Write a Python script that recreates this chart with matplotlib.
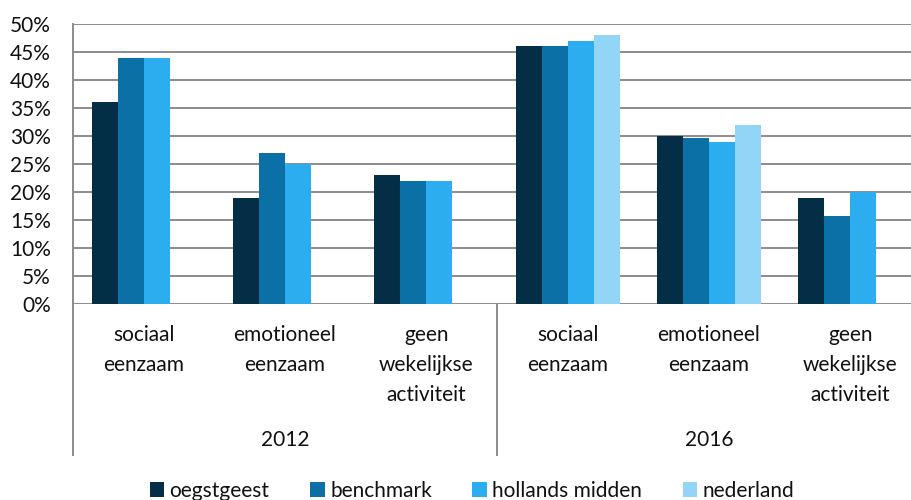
import matplotlib.pyplot as plt
from matplotlib.patches import Patch

# data
years = ['2012', '2016']
categories = ['sociaal\neenzaam', 'emotioneel\neenzaam', 'geen\nwekelijkse\nactiviteit']
series = ['oegstgeest', 'benchmark', 'hollands midden', 'nederland']
colors = ['#032E45', '#0B70A6', '#2BADEF', '#93D5F7']
oegstgeest = [36, 19, 23, 46, 30, 19]
benchmark = [44, 27, 22, 46, 29.6, 15.7]
hollands_midden = [44, 25, 22, 47, 29, 20]
nederland = [None, None, None, 48, 32, None]
values = [oegstgeest, benchmark, hollands_midden, nederland]

W, H = 911, 500
plt.rcParams['font.family'] = ['Lato', 'DejaVu Sans']
fig = plt.figure(figsize=(W / 100, H / 100), dpi=100)

# plot area in pixels: x 73..921 (cropped at right), y 24..304
x0, x1, ytop, ybot = 73, 921, 24, 304
ax = fig.add_axes([x0 / W, (H - ybot) / H, (x1 - x0) / W, (ybot - ytop) / H])

n_cat = len(categories) * len(years)
bw = 0.184
for i, (name, vals) in enumerate(zip(series, values)):
    xs = [c + 0.5 + (i - 1.5) * bw for c in range(n_cat) if vals[c] is not None]
    hs = [v for v in vals if v is not None]
    ax.bar(xs, hs, width=bw, color=colors[i], label=name, zorder=3)

ax.set_xlim(0, n_cat)
ax.set_ylim(0, 50)
ax.set_yticks(range(0, 51, 5))
ax.set_yticklabels([f'{t}%' for t in range(0, 51, 5)], fontsize=15, color='#111111')
ax.tick_params(axis='y', length=0, pad=16)
ax.set_xticks([])
ax.grid(axis='y', color='#8c8c8c', linewidth=1.4, zorder=0)
for s in ['top', 'right', 'bottom']:
    ax.spines[s].set_visible(False)
ax.spines['left'].set_color('#8c8c8c')
ax.spines['left'].set_linewidth(1.4)

def yfrac(py):
    return (ybot - py) / (ybot - ytop)

tr = ax.get_xaxis_transform()
# category axis lines
for xv in [0, 3, 6]:
    ax.plot([xv, xv], [0, yfrac(455)], transform=tr, color='#8c8c8c',
            linewidth=1.4, clip_on=False)

# category labels
for c in range(n_cat):
    lines = categories[c % len(categories)].split('\n')
    for k, line in enumerate(lines):
        ax.text(c + 0.5, yfrac(335 + 30 * k), line, transform=tr, ha='center',
                va='center', fontsize=15, color='#111111')
for j, yr in enumerate(years):
    ax.text(j * 3 + 1.5, yfrac(440), yr, transform=tr, ha='center', va='center',
            fontsize=15, color='#111111')

handles = [Patch(facecolor=c, label=s) for c, s in zip(colors, series)]
fig.legend(handles=handles, loc='center', bbox_to_anchor=(472 / W, (H - 491) / H),
           ncol=4, frameon=False, fontsize=15, handlelength=0.7, handleheight=0.7,
           handletextpad=0.25, columnspacing=1.95, borderpad=0, labelcolor='#111111')

fig.savefig('out.png', dpi=100)
